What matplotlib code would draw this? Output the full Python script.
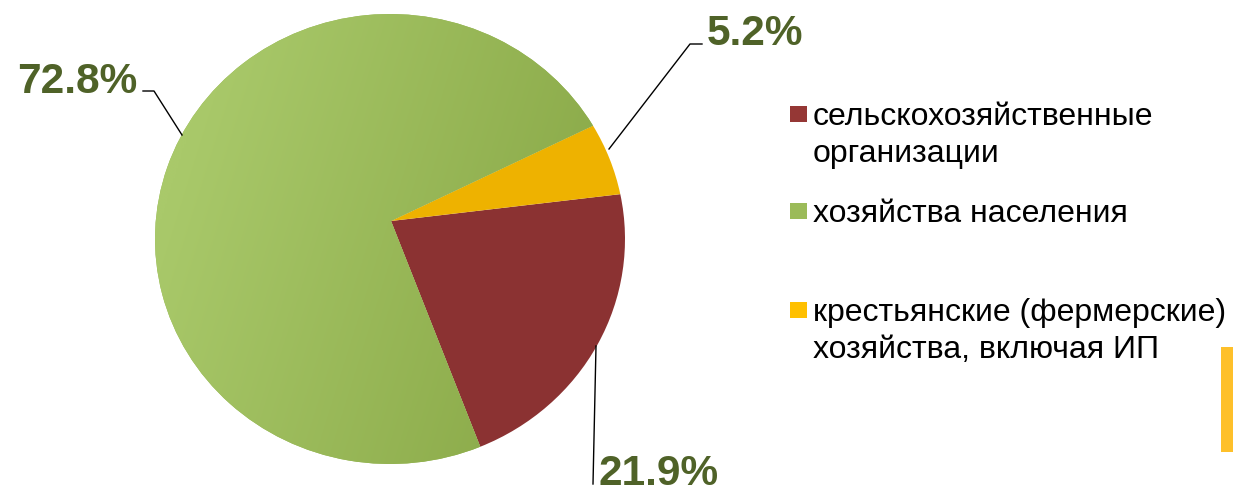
import numpy as np
import matplotlib.pyplot as plt
from matplotlib.patches import PathPatch, Rectangle
from matplotlib.path import Path

W, H = 1233, 489

labels = ["сельскохозяйственные\nорганизации", "хозяйства населения",
          "крестьянские (фермерские)\nхозяйства, включая ИП"]
shares = [21.9, 72.8, 5.2]
pct_labels = ["21.9%", "72.8%", "5.2%"]
colors = ["#8B3232", "#96B653", "#EEB200"]
legend_colors = ["#953735", "#9BBB59", "#FFC000"]

plt.rcParams['font.family'] = ['Liberation Sans', 'DejaVu Sans']

fig = plt.figure(figsize=(W / 100, H / 100), dpi=100)

# pie axes covers the bounding box of the (slightly elliptic) pie, in pixels
cx, cy, rx, ry = 390, 240, 235, 225
ax = fig.add_axes([(cx - rx) / W, 1 - (cy + ry) / H, 2 * rx / W, 2 * ry / H])
wedges, _ = ax.pie(shares, colors=colors, startangle=11.5, counterclock=False)

# the apex of the slices is a bit above the centre of the outline
apex = np.array([(391 - cx) / rx, (cy - 222) / ry])
patches = []
for w in wedges:
    p = w.get_path()
    v = p.vertices.copy()
    v[np.all(np.isclose(v, w.center), axis=1)] = apex
    pp = PathPatch(Path(v, p.codes), facecolor=w.get_facecolor(), edgecolor='none')
    w.remove()
    ax.add_patch(pp)
    patches.append(pp)

# soft gradient on the big green slice
gx, gy = np.meshgrid(np.linspace(-1, 1, 300), np.linspace(1, -1, 300))
t = np.clip(0.5 * (gx + 1) - 0.15 * gy, 0, 1)
light = np.array([0xA9, 0xC9, 0x6A]) / 255
dark = np.array([0x89, 0xA8, 0x47]) / 255
img = light + (dark - light) * t[..., None]
im = ax.imshow(img, extent=(-1, 1, -1, 1), aspect='auto', zorder=3)
im.set_clip_path(patches[1])

ax.set_xlim(-1, 1)
ax.set_ylim(-1, 1)
ax.set_aspect('auto')
ax.axis('off')

# overlay in pixel coordinates for labels, leaders and legend
ov = fig.add_axes([0, 0, 1, 1])
ov.set_xlim(0, W)
ov.set_ylim(H, 0)
ov.axis('off')
ov.patch.set_visible(False)

lab_color = "#4F6228"
# 21.9%
ov.plot([596, 593], [347, 485], color='black', lw=1)
ov.text(598, 485, pct_labels[0], fontsize=30.5, fontweight='bold', color=lab_color,
        ha='left', va='baseline')
# 72.8%
ov.plot([143, 154, 182], [92, 92, 136], color='black', lw=1)
ov.text(137, 93, pct_labels[1], fontsize=30.5, fontweight='bold', color=lab_color,
        ha='right', va='baseline')
# 5.2%
ov.plot([609, 690, 702], [150, 45, 45], color='black', lw=1)
ov.text(707, 45, pct_labels[2], fontsize=30.5, fontweight='bold', color=lab_color,
        ha='left', va='baseline')

# legend
sq_tops = [107, 204, 303]
for lab, col, top in zip(labels, legend_colors, sq_tops):
    ov.add_patch(Rectangle((790, top), 17, 16, facecolor=col, edgecolor='none'))
    for j, line in enumerate(lab.split('\n')):
        ov.text(813, top + 18 + j * 37, line, fontsize=23, color='black',
                ha='left', va='baseline')

# orange bar at the right edge
ov.add_patch(Rectangle((1221, 348), 12, 105, facecolor="#FEC02A", edgecolor='none'))

fig.savefig('out.png', dpi=100)
